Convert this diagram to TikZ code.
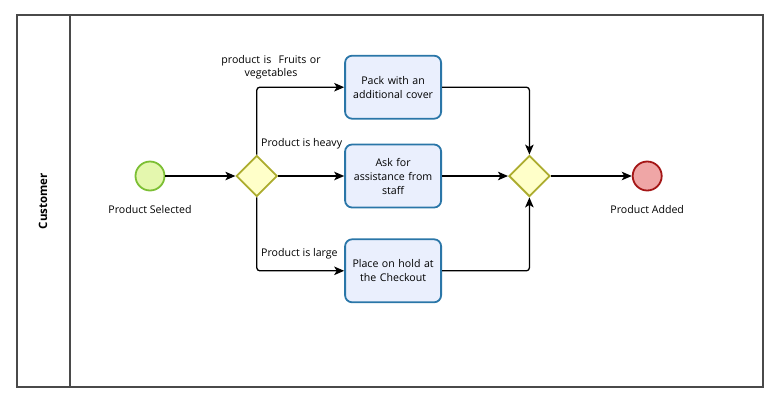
\documentclass[tikz,border=0pt]{standalone}
\usepackage{fontspec}
\setmainfont{Open Sans}
\usetikzlibrary{positioning,shapes.geometric,arrows.meta}
\definecolor{StartFill}{HTML}{E4F7AE}
\definecolor{StartLine}{HTML}{7CBF34}
\definecolor{GateFill}{HTML}{FFFFC9}
\definecolor{GateLine}{HTML}{ACAC2E}
\definecolor{TaskFill}{HTML}{EAEFFD}
\definecolor{TaskLine}{HTML}{2A76A8}
\definecolor{EndFill}{HTML}{EFA6A6}
\definecolor{EndLine}{HTML}{A41616}
\definecolor{PoolLine}{HTML}{4A4A4A}

\begin{document}
\begin{tikzpicture}[x=1pt,y=-1pt,>={Stealth[length=10pt,width=8.5pt,inset=2.5pt]}]
  \tikzstyle{event}=[circle,minimum size=29pt,inner sep=0pt,line width=1.8pt]
  \tikzstyle{gate}=[diamond,aspect=1,minimum width=41pt,minimum height=41pt,
    inner sep=0pt,draw=GateLine,fill=GateFill,line width=1.8pt]
  \tikzstyle{task}=[draw=TaskLine,fill=TaskFill,line width=1.8pt,rounded corners=7pt,
    minimum width=96pt,minimum height=63pt,text width=88pt,align=center,
    font=\fontsize{10.6}{14}\selectfont]
  \tikzstyle{lbl}=[font=\fontsize{10.6}{12.5}\selectfont,inner sep=0pt]
  \tikzstyle{flow}=[->,line width=1.3pt,rounded corners=3pt]
  \useasboundingbox (0,0) rectangle (780,413);
  % pool and lane
  \draw[PoolLine,line width=1.4pt] (17,15) rectangle (763,387);
  \draw[PoolLine,line width=1.4pt] (70,15) -- (70,387);
  \node[rotate=90,font=\fontsize{11.5}{14}\selectfont\bfseries] (lane) at (43,201) {Customer};
  % flow nodes
  \node[event,draw=StartLine,fill=StartFill] (start) at (150,176) {};
  \node[gate,right=70pt of start] (gwsplit) {};
  \node[task,right=66pt of gwsplit] (taskhelp) {Ask for\\assistance from\\staff};
  \node[task,above=24pt of taskhelp] (taskpack) {Pack with an\\additional cover};
  \node[task,below=30pt of taskhelp] (taskhold) {Place on hold at\\the Checkout};
  \node[gate,right=66pt of taskhelp] (gwjoin) {};
  \node[event,draw=EndLine,fill=EndFill,right=81pt of gwjoin] (finish) {};
  % labels
  \node[lbl,below=14pt of start] (lblstart) {Product Selected};
  \node[lbl,below=14pt of finish] (lblfinish) {Product Added};
  \node[lbl,align=center,text width=110pt] (lblfruit) at (271,67) {product is~~Fruits or\\vegetables};
  \node[lbl,anchor=west] (lblheavy) at (261,144) {Product is heavy};
  \node[lbl,anchor=west] (lbllarge) at (261,254) {Product is large};
  % connectors
  \draw[flow] (start) -- (gwsplit);
  \draw[flow] (gwsplit) -- (taskhelp);
  \draw[flow] (gwsplit.north) |- (taskpack);
  \draw[flow] (gwsplit.south) |- (taskhold);
  \draw[flow] (taskpack) -| (gwjoin.north);
  \draw[flow] (taskhelp) -- (gwjoin);
  \draw[flow] (taskhold) -| (gwjoin.south);
  \draw[flow] (gwjoin) -- (finish);
\end{tikzpicture}
\end{document}
